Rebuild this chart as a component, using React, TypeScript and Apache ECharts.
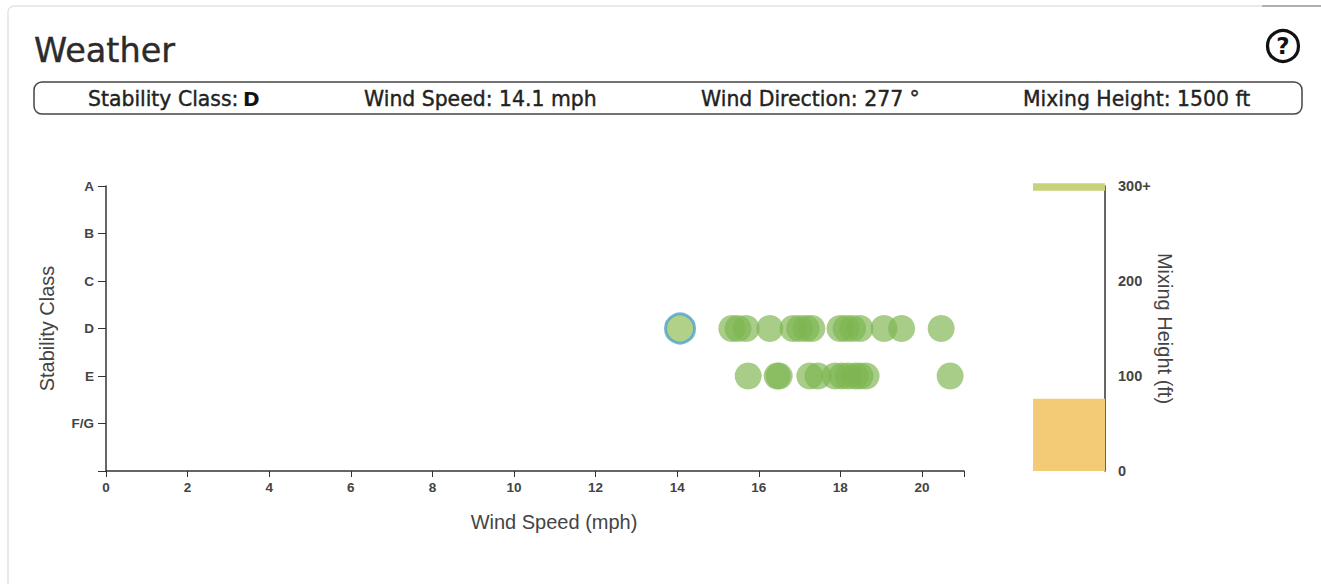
import React, { useEffect, useRef } from "react";
import * as echarts from "echarts";

const stabilityClasses = ["A", "B", "C", "D", "E", "F/G"];
const classD = [15.34, 15.49, 15.69, 16.27, 16.84, 17.0, 17.16, 17.3, 17.99, 18.14, 18.3, 18.48, 19.07, 19.5, 20.47];
const classE = [15.74, 16.45, 16.5, 17.25, 17.45, 17.87, 18.04, 18.19, 18.36, 18.48, 18.63, 20.69];
const currentPoint = [14.07, 3];
const mixingLower = [76];
const mixingGap = [219];
const mixingTop = [8];
const mixingTicks: Record<number, string> = { 0: "0", 100: "100", 200: "200", 300: "300+" };

const FONT = "'Liberation Sans', Arial, sans-serif";
const UI_FONT = "'DejaVu Sans', Verdana, sans-serif";
const INK = "#2b2b2b";

const infoItems = [
  { label: "Stability Class: ", value: "D", x: 88, bx: 243 },
  { label: "Wind Speed: 14.1 mph", value: "", x: 364, bx: 0 },
  { label: "Wind Direction: 277 °", value: "", x: 701, bx: 0 },
  { label: "Mixing Height: 1500 ft", value: "", x: 1023, bx: 0 },
];

export default function App() {
  const ref = useRef<HTMLDivElement>(null);
  useEffect(() => {
    const chart = echarts.init(ref.current!, null, { renderer: "svg" });
    const axisLine = { show: true, onZero: false, lineStyle: { color: "#333", width: 1.5 } };
    const nameStyle = { fontFamily: FONT, fontSize: 20, color: "#444" };
    const tickLabel = { fontFamily: FONT, fontSize: 13.5, fontWeight: "bold", color: "#444" };
    const graphic: any[] = [
      { type: "rect", silent: true, shape: { x: 8, y: 6, width: 1330, height: 600, r: 6 }, style: { fill: "#fff", stroke: "#e4e4e4", lineWidth: 1.5 } },
      { type: "line", silent: true, shape: { x1: 1262, y1: 6, x2: 1321, y2: 6 }, style: { stroke: "#777", lineWidth: 1 } },
      { type: "text", x: 34, y: 33, style: { text: "Weather", font: `33.5px ${UI_FONT}`, fill: INK, stroke: INK, lineWidth: 0.4 } },
      { type: "rect", silent: true, shape: { x: 34, y: 82, width: 1268, height: 32, r: 8 }, style: { fill: "#fff", stroke: "#444", lineWidth: 1.5 } },
      { type: "circle", silent: true, shape: { cx: 1283, cy: 46, r: 15.5 }, style: { fill: "#fff", stroke: "#111", lineWidth: 3.2 } },
      { type: "text", x: 1283, y: 46, style: { text: "?", font: `bold 23px ${UI_FONT}`, fill: "#111", align: "center", verticalAlign: "middle" } },
    ];
    infoItems.forEach((it) => {
      graphic.push({ type: "text", x: it.x, y: 89, style: { text: it.label, font: `20.4px ${UI_FONT}`, fill: "#222", stroke: "#222", lineWidth: 0.4 } });
      if (it.value) graphic.push({ type: "text", x: it.bx, y: 89, style: { text: it.value, font: `bold 20px ${UI_FONT}`, fill: "#111" } });
    });
    chart.setOption({
      animation: false,
      backgroundColor: "#fff",
      graphic,
      grid: [
        { left: 106, top: 186, width: 858, height: 285 },
        { left: 1033, top: 186, width: 72, height: 285 },
      ],
      xAxis: [
        {
          type: "value", gridIndex: 0, position: "bottom", min: 0, max: 21.03, interval: 2,
          name: "Wind Speed (mph)", nameLocation: "middle", nameGap: 41,
          nameTextStyle: { ...nameStyle, padding: [0, 0, 0, 38] },
          axisLine, splitLine: { show: false },
          axisTick: { length: 6, lineStyle: { color: "#333" } },
          axisLabel: { ...tickLabel, margin: 9, formatter: (v: number) => (v % 2 === 0 ? String(v) : "") },
        },
        { type: "category", gridIndex: 1, data: ["mixing"], show: false },
      ],
      yAxis: [
        {
          type: "value", gridIndex: 0, inverse: true, min: 0, max: 6, interval: 1,
          name: "Stability Class", nameLocation: "middle", nameGap: 49,
          nameTextStyle: nameStyle,
          axisLine, splitLine: { show: false },
          axisTick: { length: 8, lineStyle: { color: "#333" } },
          axisLabel: { ...tickLabel, margin: 12, formatter: (v: number) => stabilityClasses[v] ?? "" },
        },
        {
          type: "value", gridIndex: 1, position: "right", min: 0, max: 300, interval: 100,
          name: "Mixing Height (ft)", nameLocation: "middle", nameGap: 47, nameRotate: -90,
          nameTextStyle: nameStyle,
          axisLine, splitLine: { show: false },
          axisTick: { length: 9, lineStyle: { color: "#333" } },
          axisLabel: { ...tickLabel, fontSize: 14.5, margin: 13, formatter: (v: number) => mixingTicks[v] ?? "" },
        },
      ],
      series: [
        {
          type: "scatter", xAxisIndex: 0, yAxisIndex: 0, symbolSize: 27,
          itemStyle: { color: "rgba(125,182,80,0.85)" },
          data: classD.map((x) => [x, 3]),
        },
        {
          type: "scatter", xAxisIndex: 0, yAxisIndex: 0, symbolSize: 27,
          itemStyle: { color: "rgba(125,182,80,0.85)" },
          data: classE.map((x) => [x, 4]),
        },
        {
          type: "scatter", xAxisIndex: 0, yAxisIndex: 0, symbolSize: 29,
          itemStyle: { color: "#9dc56c", borderColor: "#4fa3c9", borderWidth: 3 },
          data: [currentPoint],
        },
        { type: "bar", xAxisIndex: 1, yAxisIndex: 1, stack: "m", clip: false, barWidth: "100%", itemStyle: { color: "#f3cb76" }, data: mixingLower },
        { type: "bar", xAxisIndex: 1, yAxisIndex: 1, stack: "m", clip: false, barWidth: "100%", itemStyle: { color: "rgba(0,0,0,0)" }, data: mixingGap },
        { type: "bar", xAxisIndex: 1, yAxisIndex: 1, stack: "m", clip: false, barWidth: "100%", itemStyle: { color: "#c7d27a" }, data: mixingTop },
      ],
    });
    return () => chart.dispose();
  }, []);
  return <div ref={ref} style={{ position: "fixed", left: 0, top: 0, width: 1321, height: 584 }} />;
}
